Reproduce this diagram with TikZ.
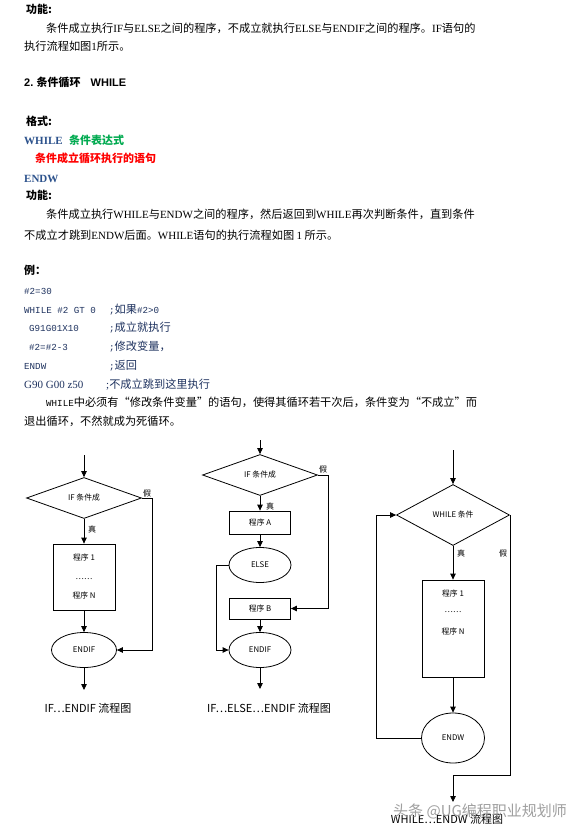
\documentclass[tikz,border=0pt]{standalone}
\usepackage{fontspec}
\setmainfont{Liberation Serif}
\setsansfont{Liberation Sans}
\setmonofont{Liberation Mono}
\newfontfamily\cjk{Noto Sans CJK SC}
\usetikzlibrary{shapes.geometric,arrows.meta}
\definecolor{hblue}{RGB}{44,82,140}
\definecolor{hgreen}{RGB}{0,170,80}
\definecolor{codec}{RGB}{30,50,95}
\newcommand\lat[1]{{\rmfamily\fontsize{11}{13}\selectfont #1}}
\newcommand\cde[1]{{\ttfamily\fontsize{9.2}{13}\selectfont #1}}
\tikzset{
  txt/.style={anchor=base west, inner sep=0pt, font=\cjk\fontsize{11.2}{13}\selectfont},
  codetxt/.style={txt, text=codec},
  fc/.style={font=\cjk\fontsize{7.8}{9}\selectfont, inner sep=0pt},
  lbl/.style={font=\cjk\fontsize{8}{9}\selectfont, inner sep=0pt},
  captxt/.style={font=\cjk\fontsize{11}{13}\selectfont, inner sep=0pt},
  ln/.style={line width=0.8pt},
  arr/.style={ln, -{Triangle[length=6pt,width=5.5pt]}},
  dia/.style={diamond, draw, ln, aspect=2.8, inner sep=0pt, fc},
  pbox/.style={rectangle, draw, ln, inner sep=0pt, fc},
  ell/.style={ellipse, draw, ln, inner sep=0pt, fc}
}
\begin{document}
\begin{tikzpicture}[x=1pt,y=-1pt]
\useasboundingbox[fill=white] (0,0) rectangle (583,832);
% ---------- text ----------
\node[txt, font=\cjk\bfseries\fontsize{11}{13}\selectfont] (t1) at (26,14) {功能:};
\node[txt] (t2) at (46,33) {条件成立执行\lat{IF}与\lat{ELSE}之间的程序，不成立就执行\lat{ELSE}与\lat{ENDIF}之间的程序。\lat{IF}语句的};
\node[txt] (t3) at (24,51) {执行流程如图\lat{1}所示。};
\node[txt, font=\cjk\bfseries\fontsize{11}{13}\selectfont] (t4) at (24,87) {{\sffamily\bfseries 2.} 条件循环\hspace{10pt}{\sffamily\bfseries WHILE}};
\node[txt, font=\cjk\bfseries\fontsize{11}{13}\selectfont] (t5) at (26,125) {格式:};
\node[txt, text=hblue] (t6) at (24,144) {\rmfamily\bfseries\fontsize{11}{13}\selectfont WHILE};
\node[txt, text=hgreen, font=\cjk\bfseries\fontsize{11}{13}\selectfont] (t7) at (69,144) {条件表达式};
\node[txt, text=red, font=\cjk\bfseries\fontsize{11}{13}\selectfont] (t8) at (35,162) {条件成立循环执行的语句};
\node[txt, text=hblue] (t9) at (24,182) {\rmfamily\bfseries\fontsize{11}{13}\selectfont ENDW};
\node[txt, font=\cjk\bfseries\fontsize{11}{13}\selectfont] (t10) at (26,199) {功能:};
\node[txt] (t11) at (46,218) {条件成立执行\lat{WHILE}与\lat{ENDW}之间的程序，然后返回到\lat{WHILE}再次判断条件，直到条件};
\node[txt] (t12) at (24,239) {不成立才跳到\lat{ENDW}后面。\lat{WHILE}语句的执行流程如图 \lat{1} 所示。};
\node[txt, font=\cjk\bfseries\fontsize{11}{13}\selectfont] (t13) at (24,274) {例：};
% code
\node[codetxt] (c1) at (24,294) {\cde{\#2=30}};
\node[codetxt] (c2) at (24,313) {\cde{WHILE \#2 GT 0}};
\node[codetxt] (c2b) at (109,313) {\cde{;}如果\cde{\#2>0}};
\node[codetxt] (c3) at (29,331) {\cde{G91G01X10}};
\node[codetxt] (c3b) at (109,331) {\cde{;}成立就执行};
\node[codetxt] (c4) at (29,350) {\cde{\#2=\#2-3}};
\node[codetxt] (c4b) at (109,350) {\cde{;}修改变量，};
\node[codetxt] (c5) at (24,369) {\cde{ENDW}};
\node[codetxt] (c5b) at (109,369) {\cde{;}返回};
\node[codetxt] (c6) at (24,388) {\lat{G90 G00 z50}};
\node[codetxt] (c6b) at (106,388) {\lat{;}不成立跳到这里执行};
\node[txt] (t14) at (46,406) {\cde{WHILE}中必须有“修改条件变量”的语句，使得其循环若干次后，条件变为“不成立”而};
\node[txt] (t15) at (24,425) {退出循环，不然就成为死循环。};
% ---------- flowchart 1 ----------
\coordinate (s1) at (84,455);
\coordinate (x1) at (84,690);
\node[dia, minimum width=115pt, minimum height=41pt] (d1) at (84,498) {IF 条件成};
\node[pbox, minimum width=62pt, minimum height=66pt, align=center, font=\cjk\fontsize{7.8}{19}\selectfont] (b1) at (84,577) {程序 1\\……\\程序 N};
\node[ell, minimum width=65pt, minimum height=35pt] (e1) at (84,650) {ENDIF};
\draw[arr] (s1) -- (d1.north);
\draw[arr] (d1.south) -- (b1.north);
\draw[arr] (b1.south) -- (e1.north);
\draw[arr] (e1.south) -- (x1);
\draw[arr] (d1.east) -- ++(10,0) |- (e1.east);
\node[lbl] (f1) at (147,493) {假};
\node[lbl] (r1) at (92,529) {真};
\node[captxt] (cap1) at (88,708) {IF…ENDIF 流程图};
% ---------- flowchart 2 ----------
\coordinate (s2) at (260,440);
\coordinate (x2) at (260,689);
\node[dia, minimum width=115pt, minimum height=41pt] (d2) at (260,475) {IF 条件成};
\node[pbox, minimum width=61pt, minimum height=23pt] (bA) at (260,522.5) {程序 A};
\node[ell, minimum width=62pt, minimum height=35pt] (eE) at (260,565) {ELSE};
\node[pbox, minimum width=61pt, minimum height=21pt] (bB) at (260,608.5) {程序 B};
\node[ell, minimum width=62pt, minimum height=35pt] (e2) at (260,650) {ENDIF};
\draw[arr] (s2) -- (d2.north);
\draw[arr] (d2.south) -- (bA.north);
\draw[arr] (bA.south) -- (eE.north);
\draw[arr] (bB.south) -- (e2.north);
\draw[arr] (e2.south) -- (x2);
\draw[arr] (d2.east) -- ++(10,0) |- (bB.east);
\draw[arr] (eE.west) -- ++(-12,0) |- (e2.west);
\node[lbl] (f2) at (323,469) {假};
\node[lbl] (r2) at (270,506) {真};
\node[captxt] (cap2) at (269,708) {IF…ELSE…ENDIF 流程图};
% ---------- flowchart 3 ----------
\coordinate (s3) at (453,450);
\coordinate (k3) at (453,775);
\coordinate (x3) at (453,802);
\node[dia, minimum width=113pt, minimum height=61pt] (d3) at (453,515) {WHILE 条件};
\node[pbox, minimum width=62pt, minimum height=97pt] (b3) at (453,628.5) {};
\node[fc] (p31) at (453,594) {程序 1};
\node[fc] (p32) at (453,612) {……};
\node[fc] (p33) at (453,632) {程序 N};
\node[ell, minimum width=63pt, minimum height=50pt] (e3) at (453,738) {ENDW};
\draw[arr] (s3) -- (d3.north);
\draw[arr] (d3.south) -- (b3.north);
\draw[arr] (b3.south) -- (e3.north);
\draw[arr] (e3.west) -- ++(-45,0) |- (d3.west);
\draw[ln] (d3.east) |- (k3);
\draw[arr] (k3) -- (x3);
\node[lbl] (r3) at (461,553) {真};
\node[lbl] (f3) at (503,553) {假};
\node[captxt] (cap3) at (447,819) {WHILE…ENDW 流程图};
\node[anchor=base west, inner sep=0pt, text=gray!75, font=\cjk\fontsize{15}{16}\selectfont] (wm) at (393,816) {头条 @UG编程职业规划师};
\end{tikzpicture}
\end{document}
